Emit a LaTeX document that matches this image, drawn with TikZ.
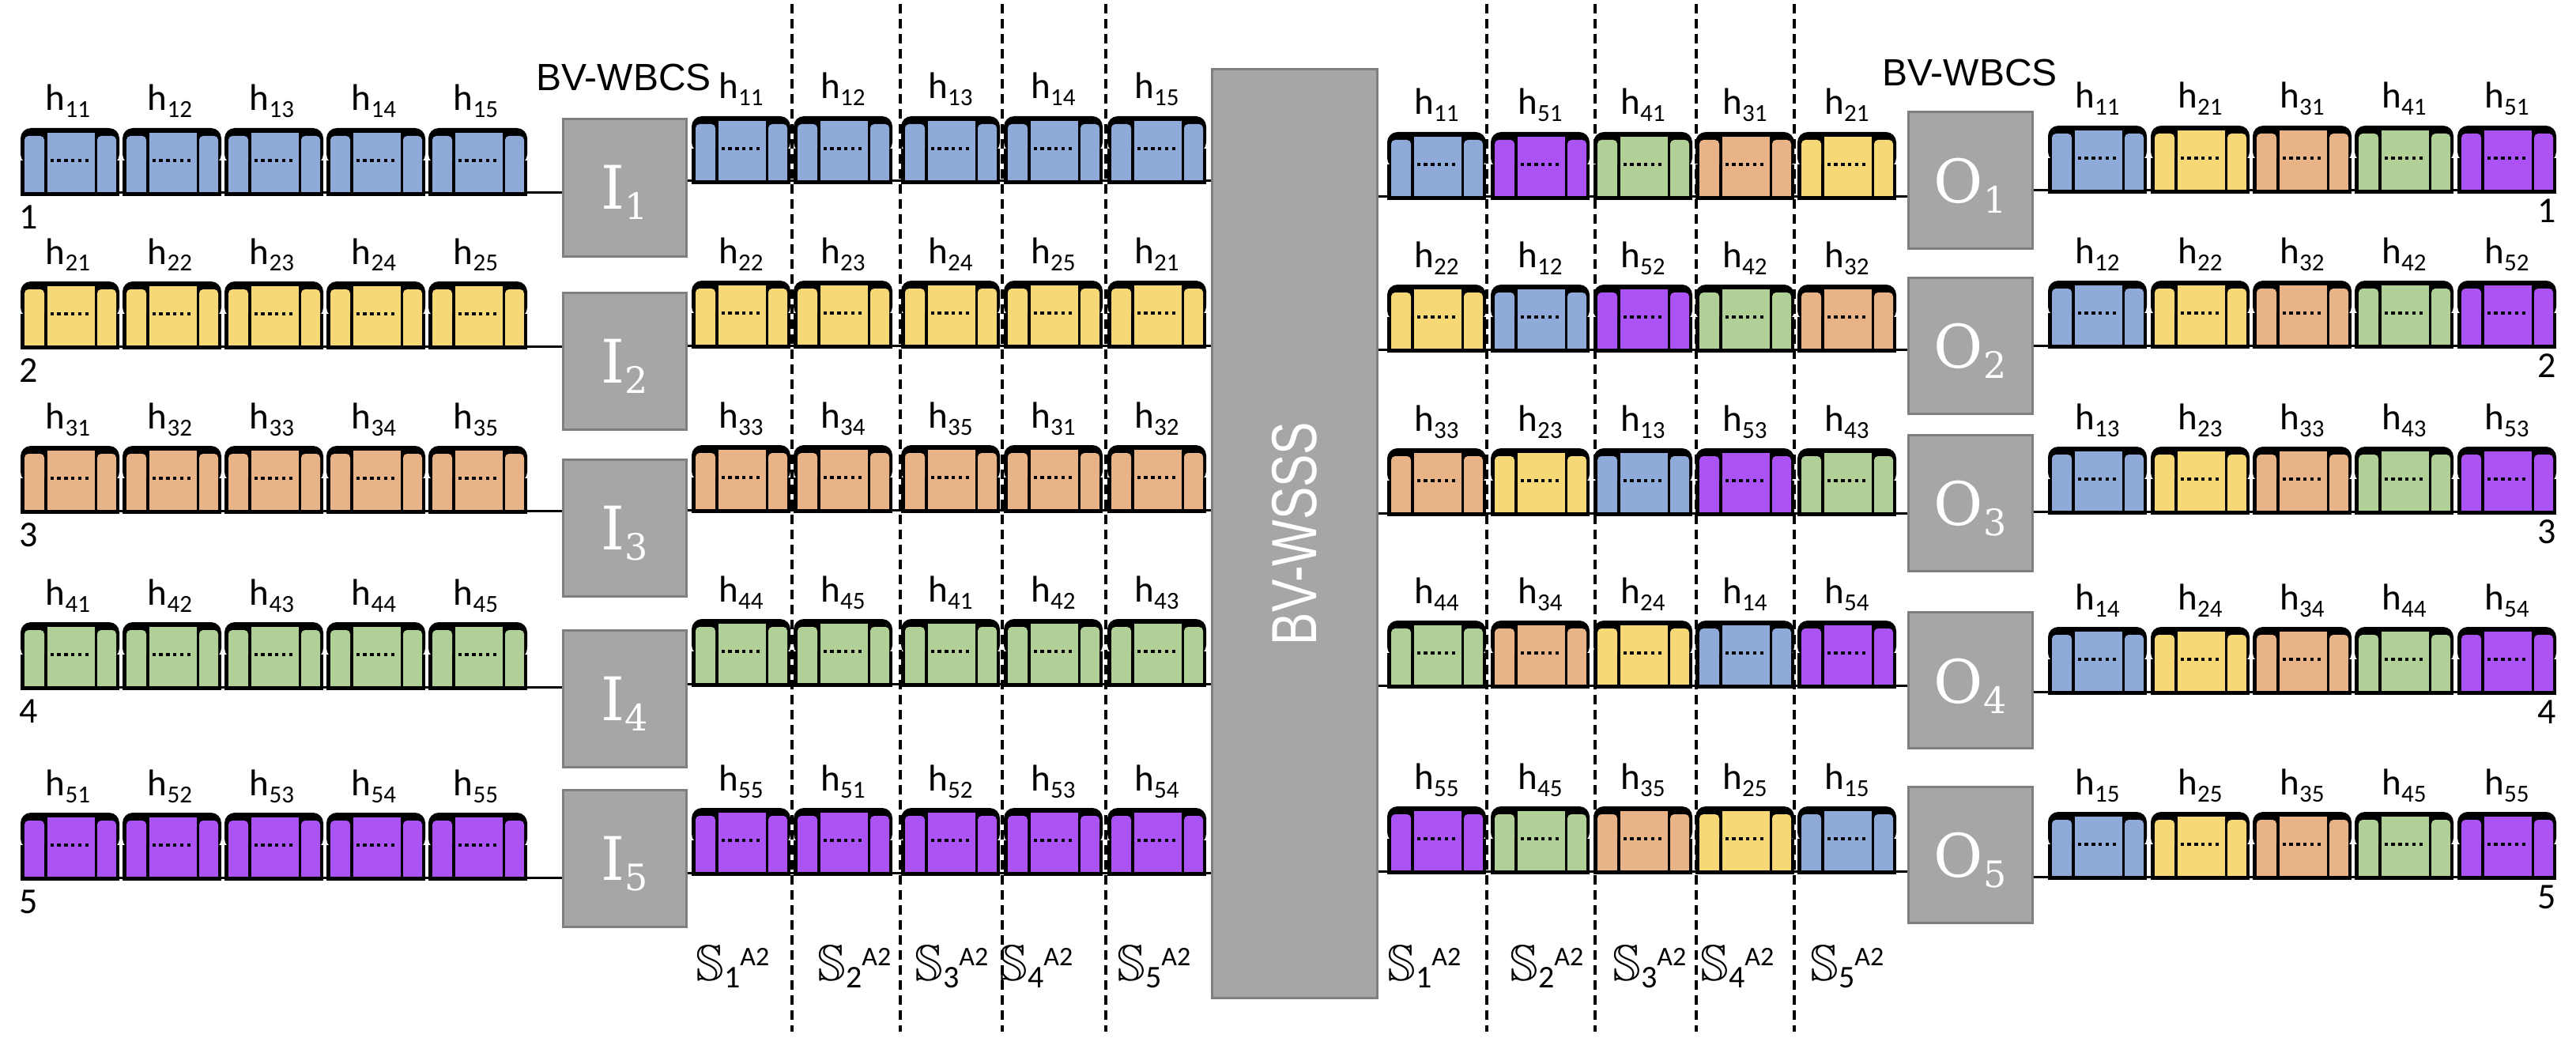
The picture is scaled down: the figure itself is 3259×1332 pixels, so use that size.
\documentclass[tikz,border=0pt]{standalone}
\usepackage{fontspec}
\usepackage{amssymb}
\setmainfont{Carlito}
\newfontfamily\arialfont{Liberation Sans}
\newfontfamily\iofont{DejaVu Serif}
\definecolor{col1}{HTML}{8FA9D9}
\definecolor{col2}{HTML}{F7D876}
\definecolor{col3}{HTML}{E9B388}
\definecolor{col4}{HTML}{B1D097}
\definecolor{col5}{HTML}{AB53F4}
\definecolor{boxfill}{HTML}{A6A6A6}
\definecolor{boxdraw}{HTML}{7F7F7F}
\newcommand\hlab[1]{\fontsize{47}{47}\selectfont h\raisebox{-9pt}{\fontsize{31}{31}\selectfont #1}}
\newcommand\iolab[2]{\iofont\fontsize{76}{76}\selectfont #1\raisebox{-13pt}{\fontsize{46}{46}\selectfont #2}}
\newcommand\slab[1]{\scalebox{6.4}{$\mathbb{S}$}\raisebox{-9pt}{\fontsize{40}{40}\selectfont #1}\raisebox{19pt}{\fontsize{34}{34}\selectfont A2}}
\newcommand\blk[3]{%
  \fill[black,rounded corners=13pt] (#1,#2-40) rectangle (#1+125,#2-86);
  \fill[black] (#1,#2) rectangle (#1+125,#2-45);
  \fill[#3,rounded corners=5pt] (#1+5,#2-40) rectangle (#1+30,#2-76);
  \fill[#3] (#1+5,#2-5) rectangle (#1+30,#2-45);
  \fill[#3] (#1+34,#2-5) rectangle (#1+94,#2-80);
  \fill[#3,rounded corners=5pt] (#1+97,#2-40) rectangle (#1+121,#2-76);
  \fill[#3] (#1+97,#2-5) rectangle (#1+121,#2-45);
  \foreach \dd in {0,...,5} {\fill[black] (#1+37.5+\dd*8.9,#2-47) rectangle ++(4.2,4.2);}
}
\begin{document}
\begin{tikzpicture}[x=1pt,y=-1pt,
  iobox/.style={draw=boxdraw,fill=boxfill,line width=3pt,inner sep=0pt},
  conn/.style={line width=3pt,black},
  sep/.style={line width=3.5pt,dash pattern=on 12pt off 7pt},
  hl/.style={anchor=base,inner sep=0pt},
  num/.style={font=\fontsize{46}{46}\selectfont,inner sep=0pt},
  sl/.style={inner sep=0pt,anchor=base}]
\useasboundingbox (0,0) rectangle (3259,1332);
% separators
\foreach \i/\x in {1/1002,2/1139,3/1268,4/1399,5/1881,6/2018,7/2146,8/2270} {
  \coordinate (dt\i) at (\x,5);
  \coordinate (db\i) at (\x,1305);
  \draw[sep] (dt\i) -- (db\i);
}
% switch boxes
\foreach \r/\y in {1/237.5,2/457,3/668,4/884,5/1085.5}
  \node[iobox,minimum width=156pt,minimum height=173pt,text=white,text height=55pt,text depth=0pt] (I\r) at (790,\y) {\iolab{I}{\r}};
\foreach \r/\y in {1/228,2/437,3/636,4/860.5,5/1081}
  \node[iobox,minimum width=157pt,minimum height=172pt,text=white,text height=57pt,text depth=0pt] (O\r) at (2492.5,\y) {\iolab{O}{\r}};
\node[iobox,minimum width=209pt,minimum height=1174pt] (wsss) at (1637.5,675) {};
\node[rotate=90,text=white,font=\arialfont\fontsize{62}{62}\selectfont] (wsssT) at (wsss.center) {\scalebox{1}[1.3]{BV-WSSS}};
\node[font=\arialfont\fontsize{48}{48}\selectfont,inner sep=0pt] (wbcsL) at (789,98) {BV-WBCS};
\node[font=\arialfont\fontsize{48}{48}\selectfont,inner sep=0pt] (wbcsR) at (2492,92) {BV-WBCS};
% left group
\foreach \r/\y in {1/244,2/438,3/646,4/869,5/1110} {
  \coordinate (Ls\r) at (26,\y);
  \draw[conn] (Ls\r) -- (Ls\r -| I\r.west);
  \foreach \c/\x in {1/26,2/155,3/284,4/413,5/542} {
    \blk{\x}{\y+4}{col\r}
    \node[hl] (hL\r\c) at (\x+60,\y+4-108) {\hlab{\r\c}};
  }
  \node[num] (nL\r) at (36,\y+31) {\r};
}
% middle-left group
\foreach \r/\y in {1/229,2/437,3/645,4/865,5/1104} {
  \coordinate (MLy\r) at (0,\y);
  \draw[conn] (I\r.east |- MLy\r) -- (wsss.west |- MLy\r);
  \foreach \c/\x in {1/875,2/1004,3/1140,4/1270,5/1401} {
    \pgfmathtruncatemacro\kk{mod(\c+\r-2,5)+1}
    \blk{\x}{\y+4}{col\r}
    \node[hl] (hML\r\c) at (\x+62.5,\y+4-108) {\hlab{\r\kk}};
  }
}
% middle-right group
\foreach \r/\y in {1/249,2/442,3/649,4/867,5/1102} {
  \coordinate (MRy\r) at (0,\y);
  \draw[conn] (wsss.east |- MRy\r) -- (O\r.west |- MRy\r);
  \foreach \c/\x in {1/1755,2/1886,3/2016,4/2145,5/2274} {
    \pgfmathtruncatemacro\kk{mod(\r-\c+5,5)+1}
    \blk{\x}{\y+4}{col\kk}
    \node[hl] (hMR\r\c) at (\x+62.5,\y+4-108) {\hlab{\kk\r}};
  }
}
% right group
\foreach \r/\y in {1/241,2/437,3/647,4/875,5/1109} {
  \coordinate (Re\r) at (3234,\y);
  \draw[conn] (O\r.east |- Re\r) -- (Re\r);
  \foreach \c/\x in {1/2591,2/2721,3/2850,4/2979,5/3109} {
    \blk{\x}{\y+4}{col\c}
    \node[hl] (hR\r\c) at (\x+62.5,\y+4-108) {\hlab{\c\r}};
  }
  \node[num] (nR\r) at (3222,\y+26) {\r};
}
% stage labels
\foreach \i/\x in {1/927,2/1081,3/1204,4/1311,5/1460}
  \node[sl] (sL\i) at (\x,1240) {\slab{\i}};
\foreach \i/\x in {1/1802,2/1957,3/2087,4/2198,5/2337}
  \node[sl] (sR\i) at (\x,1240) {\slab{\i}};
\end{tikzpicture}
\end{document}
